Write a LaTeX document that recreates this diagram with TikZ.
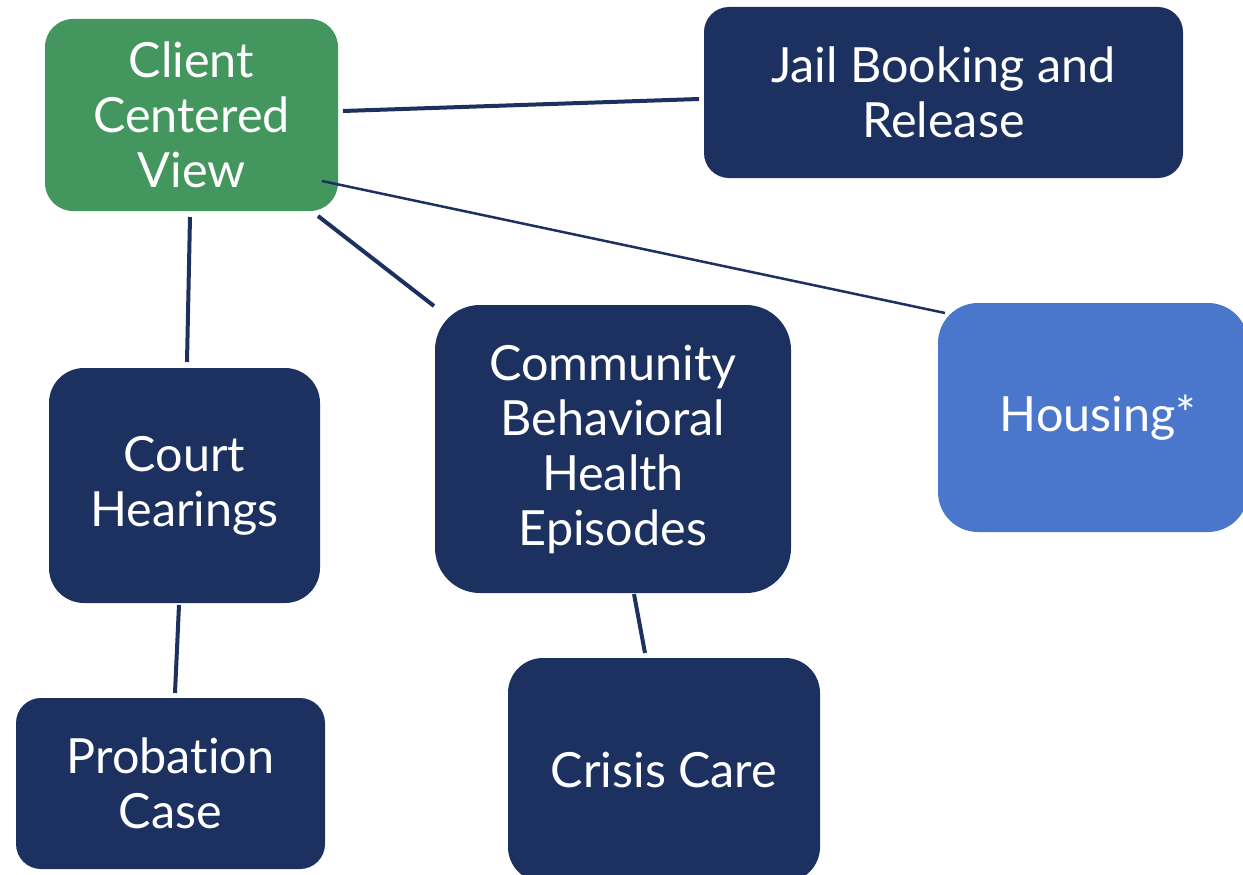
\documentclass[tikz,border=0pt]{standalone}
\usepackage{fontspec}
\setmainfont{Lato}[RawFeature=-liga]
\definecolor{navy}{HTML}{1C3160}
\definecolor{cgreen}{HTML}{43965E}
\definecolor{hblue}{HTML}{4A77CB}
\tikzset{
  box/.style={fill=navy, text=white, align=center, inner sep=0pt,
    font=\fontsize{48.5}{55}\selectfont},
  link/.style={draw=navy, line width=4pt},
  thinlink/.style={draw=navy, line width=2.5pt}
}
\begin{document}
\begin{tikzpicture}[x=1pt,y=-1pt]
\useasboundingbox (0,0) rectangle (1243,875);
\clip (0,0) rectangle (1243,875);
\node[box, fill=cgreen, minimum width=293pt, minimum height=192pt, rounded corners=28pt] (client) at (191.5,115) {Client\\Centered\\View};
\node[box, minimum width=479pt, minimum height=171pt, rounded corners=25pt] (jail) at (943.5,92.5) {Jail Booking and\\Release};
\node[box, minimum width=356pt, minimum height=288pt, rounded corners=45pt] (comm) at (613,449) {Community\\Behavioral\\Health\\Episodes};
\node[box, fill=hblue, minimum width=310pt, minimum height=229pt, rounded corners=40pt] (house) at (1093,417.5) {\hspace*{10pt}Housing*};
\node[box, minimum width=271pt, minimum height=235pt, rounded corners=35pt] (court) at (184.5,485.5) {Court\\Hearings};
\node[box, minimum width=309pt, minimum height=171pt, rounded corners=25pt] (prob) at (170.5,783.5) {Probation\\Case};
\node[box, minimum width=312pt, minimum height=224pt, rounded corners=35pt] (crisis) at (664,770) {Crisis Care};
% connector end points
\coordinate (c1) at (343,111); \coordinate (j1) at (699,99);
\coordinate (c2) at (322,181); \coordinate (h1) at (945,313);
\coordinate (c3) at (318,216); \coordinate (m1) at (434,306);
\coordinate (c4) at (190,217); \coordinate (k1) at (187,362);
\coordinate (k2) at (179,605); \coordinate (p1) at (175,693);
\coordinate (m2) at (634,594); \coordinate (r1) at (645,653);
\draw[link] (c1) -- (j1);
\draw[thinlink] (c2) -- (h1);
\draw[link] (c3) -- (m1);
\draw[link] (c4) -- (k1);
\draw[link] (k2) -- (p1);
\draw[link] (m2) -- (r1);
\end{tikzpicture}
\end{document}
